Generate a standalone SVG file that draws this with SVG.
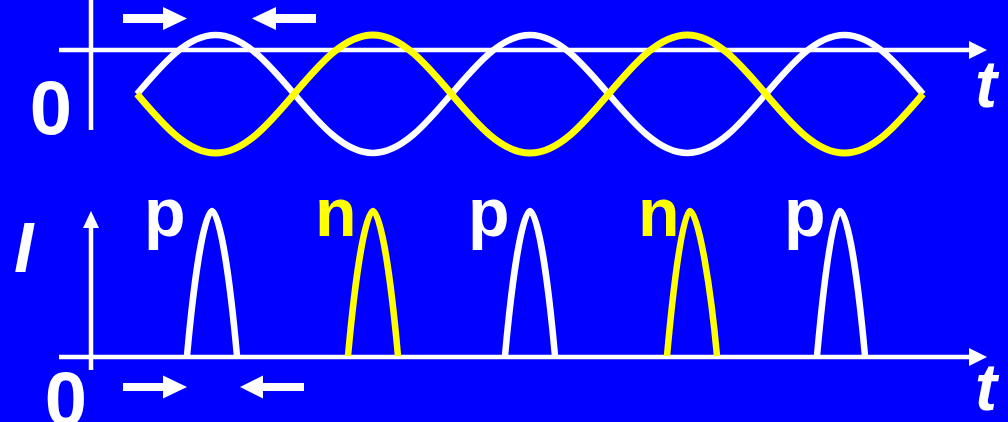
<svg xmlns="http://www.w3.org/2000/svg" width="1008" height="422" viewBox="0 0 1008 422">
  <style>
    .axis { stroke: #ffffff; stroke-width: 4.5; fill: none; }
    .head { fill: #ffffff; }
    .wave-w { stroke: #ffffff; stroke-width: 6.5; fill: none; }
    .wave-y { stroke: #ffff00; stroke-width: 7; fill: none; }
    .pulse-w { stroke: #ffffff; stroke-width: 6.5; fill: none; stroke-linejoin: round; }
    .pulse-y { stroke: #ffff00; stroke-width: 6.5; fill: none; stroke-linejoin: round; }
    .lbl { font-family: "Liberation Sans", Arial, sans-serif; font-weight: bold; }
    .it { font-style: italic; }
    .arrow { fill: #ffffff; }
  </style>
  <rect x="0" y="0" width="1008" height="422" fill="#0000ff"/>

  <g id="top-plot">
    <g id="top-axes">
      <line class="axis" x1="59" y1="50" x2="970" y2="50"/>
      <polygon class="head" points="969,41 987,50 969,59"/>
      <line class="axis" x1="91" y1="0" x2="91" y2="130"/>
    </g>
    <path id="wave-white" class="wave-w" d="M137,94 c25.63,-30.22 50.16,-59 78.6,-59 c28.44,0 52.97,28.78 78.6,59 c25.63,30.22 50.16,59 78.6,59 c28.44,0 52.97,-28.78 78.6,-59 c25.63,-30.22 50.16,-59 78.6,-59 c28.44,0 52.97,28.78 78.6,59 c25.63,30.22 50.16,59 78.6,59 c28.44,0 52.97,-28.78 78.6,-59 c25.63,-30.22 50.16,-59 78.6,-59 c28.44,0 52.97,28.78 78.6,59"/>
    <path id="wave-yellow" class="wave-y" d="M137,94 c25.63,30.22 50.16,59 78.6,59 c28.44,0 52.97,-28.78 78.6,-59 c25.63,-30.22 50.16,-59 78.6,-59 c28.44,0 52.97,28.78 78.6,59 c25.63,30.22 50.16,59 78.6,59 c28.44,0 52.97,-28.78 78.6,-59 c25.63,-30.22 50.16,-59 78.6,-59 c28.44,0 52.97,28.78 78.6,59 c25.63,30.22 50.16,59 78.6,59 c28.44,0 52.97,-28.78 78.6,-59"/>
    <g id="top-arrows">
      <polygon class="arrow" points="123,14 163,14 163,7 187,18.5 163,30 163,23 123,23"/>
      <polygon class="arrow" points="316,14 276,14 276,7 252,18.5 276,30 276,23 316,23"/>
    </g>
    <text class="lbl" x="51" y="134" font-size="76" fill="#ffffff" text-anchor="middle">0</text>
    <text class="lbl it" x="975" y="107" font-size="66" fill="#ffffff">t</text>
  </g>

  <g id="bottom-plot">
    <g id="bottom-axes">
      <line class="axis" x1="59" y1="357" x2="970" y2="357"/>
      <polygon class="head" points="969,348 987,357 969,366"/>
      <line class="axis" x1="91" y1="370" x2="91" y2="226"/>
      <polygon class="head" points="83,228 91,211 99,228"/>
    </g>
    <g id="pulses">
      <path id="pulse-p1" class="pulse-w" d="M187,356 C193,290 203,214 212,211 C221,214 231,290 237,356"/>
      <path id="pulse-n1" class="pulse-y" d="M348,356 C354,290 364,214 373,211 C382,214 392,290 398,356"/>
      <path id="pulse-p2" class="pulse-w" d="M505,356 C511,290 521,214 530,211 C539,214 549,290 555,356"/>
      <path id="pulse-n2" class="pulse-y" d="M667,356 C673,290 682,214 690,211 C699,214 711,290 717,356"/>
      <path id="pulse-p3" class="pulse-w" d="M817,356 C823,290 832,214 840,211 C849,214 859,290 865,356"/>
    </g>
    <g id="pulse-labels">
      <text class="lbl" x="144" y="236" font-size="68" fill="#ffffff">p</text>
      <text class="lbl" x="315" y="236" font-size="68" fill="#ffff00">n</text>
      <text class="lbl" x="468" y="236" font-size="68" fill="#ffffff">p</text>
      <text class="lbl" x="638" y="236" font-size="68" fill="#ffff00">n</text>
      <text class="lbl" x="784" y="236" font-size="68" fill="#ffffff">p</text>
    </g>
    <g id="bottom-arrows">
      <polygon class="arrow" points="123,383 163,383 163,375.5 187,387 163,398.5 163,391 123,391"/>
      <polygon class="arrow" points="304,383 263,383 263,375.5 240,387 263,398.5 263,391 304,391"/>
    </g>
    <text class="lbl it" x="14" y="272" font-size="70" fill="#ffffff">I</text>
    <text class="lbl" x="66" y="425" font-size="76" fill="#ffffff" text-anchor="middle">0</text>
    <text class="lbl it" x="975" y="410" font-size="66" fill="#ffffff">t</text>
  </g>
</svg>
